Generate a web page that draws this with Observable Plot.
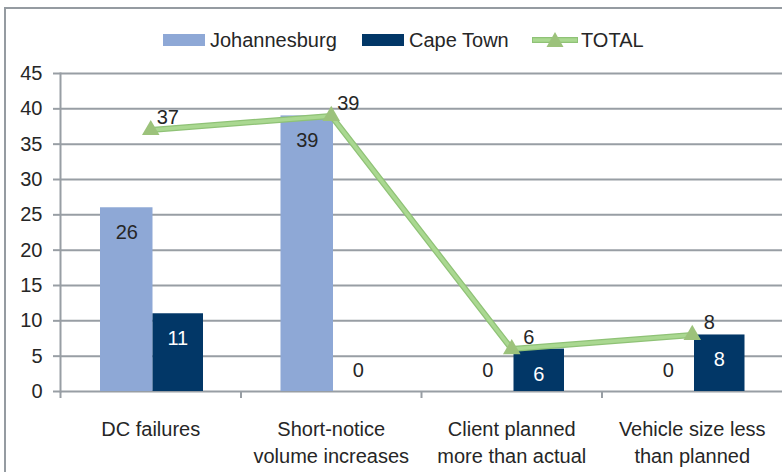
<!DOCTYPE html>
<html><head><meta charset="utf-8">
<script src="https://cdn.jsdelivr.net/npm/d3@7"></script>
<script src="https://cdn.jsdelivr.net/npm/@observablehq/plot@0.6"></script>
<style>
html,body{margin:0;padding:0;background:#fff;overflow:hidden;width:782px;height:472px;}
#wrap{position:relative;width:782px;height:472px;font-family:"Liberation Sans",Arial,Helvetica,sans-serif;color:#262626;overflow:hidden;}
#border{position:absolute;left:4px;top:7px;width:820px;height:520px;border:2px solid #959ba1;box-sizing:border-box;}
#legend{position:absolute;left:0;top:0;width:782px;height:60px;}
.item{position:absolute;top:27px;height:26px;display:flex;align-items:center;font-size:20px;white-space:nowrap;}
.sw{display:inline-block;width:42px;height:12px;margin-right:5px;}
#chart{position:absolute;left:0;top:60px;}
</style></head>
<body>
<div id="wrap">
  <div id="border"></div>
  <div id="legend"></div>
  <div id="chart"></div>
</div>
<script>
const categories = ["DC failures", "Short-notice\nvolume increases", "Client planned\nmore than actual", "Vehicle size less\nthan planned"];
const johannesburg = [26, 39, 0, 0];
const capeTown = [11, 0, 6, 8];
const total = [37, 39, 6, 8];
const yTicks = [0, 5, 10, 15, 20, 25, 30, 35, 40, 45];
const seriesNames = ["Johannesburg", "Cape Town", "TOTAL"];

const colJ = "#8ea8d6", colC = "#023767", colLine = "#aad891", colLineEdge = "#8fc276", colTri = "#9cc27b";
const grid = "#989ea4", ink = "#262626";

const rows = categories.map((c, i) => ({category: c, jhb: johannesburg[i], cpt: capeTown[i], total: total[i]}));

// legend
const legend = document.getElementById("legend");
legend.innerHTML = `
  <div class="item" style="left:163px"><span class="sw" style="background:${colJ}"></span>${seriesNames[0]}</div>
  <div class="item" style="left:362px"><span class="sw" style="background:${colC}"></span>${seriesNames[1]}</div>
  <div class="item" style="left:532px"><svg width="46" height="20" style="margin-right:3px"><line x1="0" y1="10" x2="46" y2="10" stroke="${colLineEdge}" stroke-width="6"/><line x1="1" y1="10" x2="45" y2="10" stroke="${colLine}" stroke-width="3.5"/><path d="M23,2 L31.5,17 L14.5,17 Z" fill="${colTri}"/></svg>${seriesNames[2]}</div>`;

const half = 722 / 4 / 2;
const chart = Plot.plot({
  width: 782, height: 412,
  marginLeft: 60, marginRight: 0, marginTop: 13, marginBottom: 81,
  style: {fontFamily: '"Liberation Sans", Arial, Helvetica, sans-serif', fontSize: "20px", color: ink, background: "transparent", overflow: "visible"},
  x: {domain: categories, padding: 0, round: false, axis: null},
  y: {domain: [0, 45], axis: null},
  marks: [
    Plot.ruleY(yTicks, {stroke: grid, strokeWidth: 2}),
    Plot.frame({anchor: "left", stroke: grid, strokeWidth: 2}),
    Plot.ruleX(categories, {x: d => d, y1: 0, y2: 0, dx: -half, insetBottom: -7, stroke: grid, strokeWidth: 2}),
    Plot.axisY({ticks: yTicks, tickSize: 7, tickPadding: 11, stroke: grid, strokeWidth: 2, fill: ink, fontSize: 20, label: null}),
    Plot.axisX({tickSize: 0, tickPadding: 26, lineHeight: 1.33, fill: ink, fontSize: 20, label: null}),
    Plot.barY(rows, {x: "category", y: "jhb", fill: colJ, insetLeft: 40, insetRight: 88}),
    Plot.barY(rows, {x: "category", y: "cpt", fill: colC, insetLeft: 92.5, insetRight: 37.5}),
    Plot.text(rows, {filter: d => d.jhb > 0, x: "category", y: "jhb", text: d => String(d.jhb), dx: -24, dy: 25, fill: ink, fontSize: 20}),
    Plot.text(rows, {filter: d => d.jhb === 0, x: "category", y: "jhb", text: d => String(d.jhb), dx: -24, dy: -21, fill: ink, fontSize: 20}),
    Plot.text(rows, {filter: d => d.cpt > 0, x: "category", y: "cpt", text: d => String(d.cpt), dx: 27, dy: 25, fill: "white", fontSize: 20}),
    Plot.text(rows, {filter: d => d.cpt === 0, x: "category", y: "cpt", text: d => String(d.cpt), dx: 27, dy: -21, fill: ink, fontSize: 20}),
    Plot.line(rows, {x: "category", y: "total", stroke: colLineEdge, strokeWidth: 6}),
    Plot.line(rows, {x: "category", y: "total", stroke: colLine, strokeWidth: 3.5}),
    Plot.dot(rows, {x: "category", y: "total", symbol: "triangle", r: 6.5, fill: colTri}),
    Plot.text(rows, {x: "category", y: "total", text: d => String(d.total), dx: 17, dy: -12, fill: ink, fontSize: 20})
  ]
});
document.getElementById("chart").appendChild(chart);
</script>
</body></html>
